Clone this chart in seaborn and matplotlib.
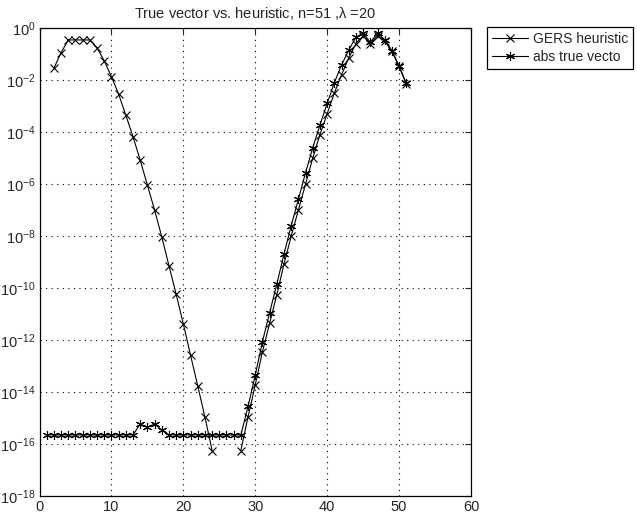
import numpy as np
import pandas as pd
import matplotlib
matplotlib.use("Agg")
import matplotlib.pyplot as plt
from matplotlib.lines import Line2D
import seaborn as sns

sns.set_style("white")
plt.rcParams['font.family'] = ['Liberation Sans', 'DejaVu Sans']
plt.rcParams['mathtext.default'] = 'regular'

# ---- data (log10 of magnitudes) ----
x_heur_left = list(range(2, 25))
log_heur_left = [-1.55, -0.95, -0.46, -0.46, -0.46, -0.46, -0.76, -1.26, -1.87,
                 -2.54, -3.35, -4.18, -5.08, -6.04, -7.0, -8.03, -9.14, -10.24,
                 -11.38, -12.58, -13.76, -14.96, -16.25]
x_heur_right = list(range(28, 52))
log_heur_right = [-16.25, -14.95, -13.73, -12.45, -11.36, -10.25, -9.08, -8.0,
                  -7.0, -6.0, -5.0, -4.1, -3.3, -2.5, -1.8, -1.15, -0.6, -0.3,
                  -0.6, -0.3, -0.5, -0.9, -1.48, -2.15]
x_true = list(range(1, 52))
log_true = [-15.65] * 13 + [-15.23, -15.36, -15.23, -15.46] + [-15.65] * 11 + \
           [-14.55, -13.35, -12.06, -10.95, -9.85, -8.69, -7.6, -6.59, -5.56,
            -4.6, -3.73, -2.9, -2.1, -1.42, -0.85, -0.35, -0.2, -0.55, -0.2,
            -0.45, -0.87, -1.46, -2.13]
series_labels = ["GERS heuristic", "abs true vecto"]
title = r"True vector vs. heuristic, n=51 ,$\lambda$ =20"
yticks_exp = list(range(-18, 1, 2))
xticks = [0, 10, 20, 30, 40, 50, 60]

heur = pd.DataFrame({
    "x": x_heur_left + x_heur_right,
    "y": 10.0 ** np.array(log_heur_left + log_heur_right),
    "seg": [0] * len(x_heur_left) + [1] * len(x_heur_right),
})
true = pd.DataFrame({"x": x_true, "y": 10.0 ** np.array(log_true), "seg": 0})

fig = plt.figure(figsize=(6.37, 5.15), dpi=100)
ax = fig.add_axes([39.5 / 637, 1 - 496 / 515, (471 - 39.5) / 637, (496 - 28) / 515])
ax.set_yscale("log")

sns.lineplot(data=heur, x="x", y="y", units="seg", estimator=None, ax=ax,
             color="black", lw=0.8, marker="x", markersize=5.5,
             markeredgecolor="black", markeredgewidth=0.8)
sns.lineplot(data=true, x="x", y="y", units="seg", estimator=None, ax=ax,
             color="black", lw=0.8, marker=(6, 2, 0), markersize=6.5,
             markeredgecolor="black", markeredgewidth=0.8)

ax.set_xlim(0, 60)
ax.set_ylim(1e-18, 1)
ax.set_xticks(xticks)
ax.set_xticklabels([str(t) for t in xticks])
ax.set_yticks([10.0 ** e for e in yticks_exp])
ax.set_yticklabels([r"$10^{%d}$" % e for e in yticks_exp])
ax.yaxis.set_minor_locator(matplotlib.ticker.NullLocator())
ax.tick_params(axis="both", which="major", direction="in", length=4,
               top=True, right=True, labelsize=10.5, pad=3, width=0.8)
ax.set_xlabel("")
ax.set_ylabel("")
ax.grid(True, which="major", color="black", linestyle=(0, (1, 4)), linewidth=0.8)
for s in ax.spines.values():
    s.set_color("black")
    s.set_linewidth(0.9)
ax.set_title(title, fontsize=10.5, pad=7)

handles = [
    Line2D([], [], color="black", lw=0.8, marker="x", markersize=5.5, markeredgewidth=0.8),
    Line2D([], [], color="black", lw=0.8, marker=(6, 2, 0), markersize=6.5, markeredgewidth=0.8),
]
leg = fig.legend(handles, series_labels, loc="upper left",
                 bbox_to_anchor=(487 / 637, 1 - 27 / 515), fontsize=10,
                 frameon=True, fancybox=False, framealpha=1, edgecolor="black",
                 handlelength=2.6, handletextpad=0.35, borderpad=0.35,
                 labelspacing=0.3, borderaxespad=0)
leg.get_frame().set_linewidth(0.9)

fig.savefig("out.png", dpi=100)
